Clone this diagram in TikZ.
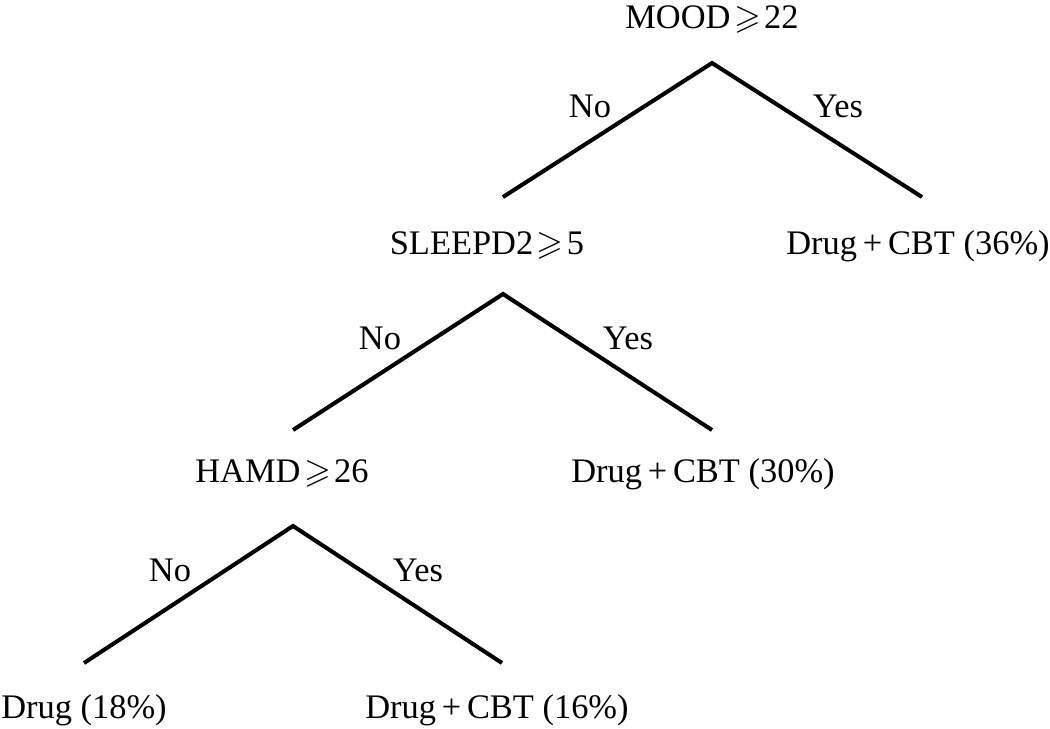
\documentclass[tikz,border=0pt]{standalone}
\usepackage{amsmath,amssymb}
\usepackage{fontspec}
\setmainfont{Liberation Serif}
\usetikzlibrary{positioning}

\newcommand{\splitge}{\hspace{0.1em}$\geqslant$\hspace{0.1em}}
\newcommand{\drugcbt}{Drug\,+\,CBT}

\begin{document}
\begin{tikzpicture}[x=0.02cm, y=-0.02cm,
  split/.style={line width=2.3pt, line join=miter},
  lbl/.style={anchor=base, inner sep=0pt, font=\fontsize{19.6}{23}\selectfont}] % 1 unit = 1 px of the page

\useasboundingbox (0,0) rectangle (1050,728);

% first split
\node[lbl] (mood) at (712,28) {MOOD\splitge22};
\coordinate (moodtop) at (712,63);
\coordinate (moodno) at (503,197);
\coordinate (moodyes) at (922,197);
\draw[split] (moodno) -- (moodtop) -- (moodyes);
\node[lbl] (moodnolbl) at (590,117) {No};
\node[lbl] (moodyeslbl) at (838,117) {Yes};
\node[lbl] (leafa) at (918,254) {\drugcbt{} (36\%)};

% second split
\node[lbl] (sleep) at (487,254) {SLEEPD2\splitge5};
\coordinate (sleeptop) at (503,294);
\coordinate (sleepno) at (293,430);
\coordinate (sleepyes) at (712,430);
\draw[split] (sleepno) -- (sleeptop) -- (sleepyes);
\node[lbl] (sleepnolbl) at (380,349) {No};
\node[lbl] (sleepyeslbl) at (628,349) {Yes};
\node[lbl] (leafb) at (703,482) {\drugcbt{} (30\%)};

% third split
\node[lbl] (hamd) at (282,482) {HAMD\splitge26};
\coordinate (hamdtop) at (293,526);
\coordinate (hamdno) at (84,663);
\coordinate (hamdyes) at (502,663);
\draw[split] (hamdno) -- (hamdtop) -- (hamdyes);
\node[lbl] (hamdnolbl) at (170,581) {No};
\node[lbl] (hamdyeslbl) at (418,581) {Yes};
\node[lbl] (leafc) at (84,718) {Drug (18\%)};
\node[lbl] (leafd) at (497,718) {\drugcbt{} (16\%)};

\end{tikzpicture}
\end{document}
